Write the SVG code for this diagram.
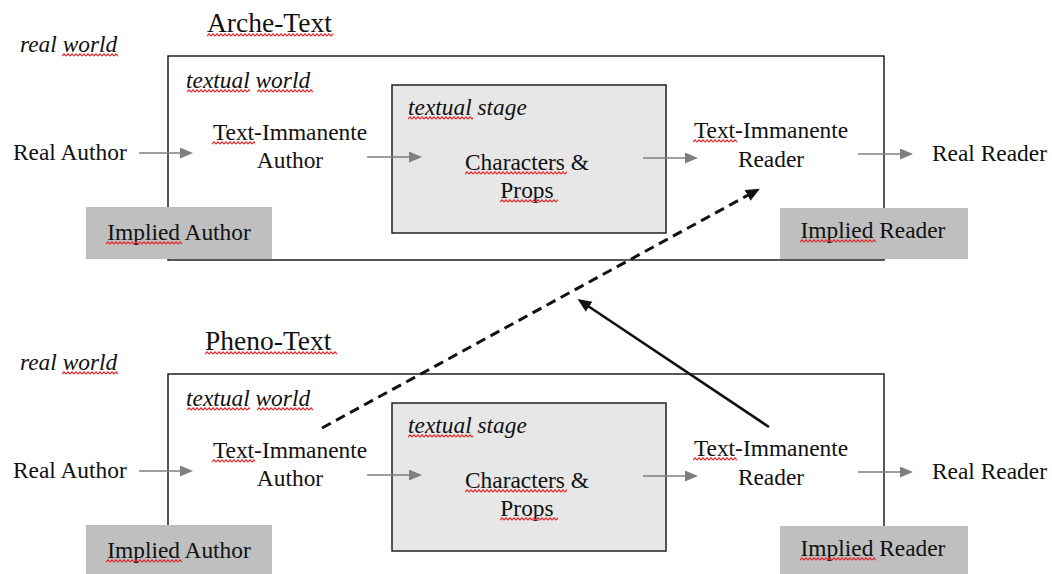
<svg xmlns="http://www.w3.org/2000/svg" width="1052" height="574" viewBox="0 0 1052 574">
<style>
  text { font-family: "Liberation Serif", "Times New Roman", serif; fill: #111; }
  .t { font-size: 23.4px; }
  .it { font-size: 23.4px; font-style: italic; }
  .title { font-size: 27.5px; }
  .mid { text-anchor: middle; }
  .outer { fill: #fff; stroke: #111; stroke-width: 1.4; }
  .stage { fill: #e7e7e7; stroke: #222; stroke-width: 1.5; }
  .implied { fill: #bfbfbf; stroke: none; }
  .gray { stroke: #7f7f7f; stroke-width: 1.6; fill: none; marker-end: url(#ga); }
  .dash { stroke: #111; stroke-width: 3; fill: none; stroke-dasharray: 10 6; marker-end: url(#ba); }
  .solid { stroke: #111; stroke-width: 2.6; fill: none; marker-end: url(#ba); }
  .sq { fill: url(#sq); }
</style>
<defs>
  <marker id="ga" markerUnits="userSpaceOnUse" markerWidth="14" markerHeight="12" refX="3" refY="5.5" orient="auto">
    <path d="M0,0 L13,5.5 L0,11 z" fill="#7f7f7f"/>
  </marker>
  <marker id="ba" markerUnits="userSpaceOnUse" markerWidth="16" markerHeight="14" refX="5" refY="6" orient="auto">
    <path d="M0,0 L14,6 L0,12 z" fill="#111"/>
  </marker>
  <pattern id="sq" patternUnits="userSpaceOnUse" width="4" height="4">
    <path d="M0,3.2 L2,0.8 L4,3.2" stroke="#e8262a" stroke-width="1.1" fill="none"/>
  </pattern>
</defs>

<g id="arche">
  <g id="arche-title">
    <text class="title" x="207" y="32">Arche-Text</text>
    <rect class="sq" transform="translate(207,33)" width="126" height="4"/>
  </g>
  <g id="arche-realworld">
    <text class="it" x="20" y="52">real world</text>
    <rect class="sq" transform="translate(62,53)" width="56" height="4"/>
  </g>
  <g id="arche-textualworld">
    <rect class="outer" x="168" y="56" width="716" height="204"/>
    <text class="it" x="186" y="88">textual world</text>
    <rect class="sq" transform="translate(187,89)" width="63" height="4"/>
    <rect class="sq" transform="translate(257,89)" width="56" height="4"/>
  </g>
  <g id="arche-stage">
    <rect class="stage" x="392" y="85" width="274" height="148"/>
    <text class="it" x="408" y="115">textual stage</text>
    <rect class="sq" transform="translate(408,116)" width="65" height="4"/>
  </g>
  <g id="arche-characters">
    <text class="t mid" x="527" y="170">Characters &amp;</text>
    <text class="t mid" x="527" y="198">Props</text>
    <rect class="sq" transform="translate(465,171)" width="102" height="4"/>
    <rect class="sq" transform="translate(500,199)" width="58" height="4"/>
  </g>
  <g id="arche-realauthor">
    <text class="t" x="13" y="160">Real Author</text>
  </g>
  <g id="arche-tiauthor">
    <text class="t mid" x="290" y="140">Text-Immanente</text>
    <text class="t mid" x="290" y="168">Author</text>
    <rect class="sq" transform="translate(212,141)" width="43" height="4"/>
  </g>
  <g id="arche-tireader">
    <text class="t mid" x="771" y="138">Text-Immanente</text>
    <text class="t mid" x="771" y="167">Reader</text>
    <rect class="sq" transform="translate(693,139)" width="44" height="4"/>
  </g>
  <g id="arche-realreader">
    <text class="t" x="932" y="161">Real Reader</text>
  </g>
  <g id="arche-impliedauthor">
    <rect class="implied" x="86" y="207" width="186" height="52"/>
    <text class="t mid" x="179" y="240">Implied Author</text>
    <rect class="sq" transform="translate(106,241)" width="76" height="4"/>
  </g>
  <g id="arche-impliedreader">
    <rect class="implied" x="780" y="208" width="188" height="51"/>
    <text class="t mid" x="873" y="238">Implied Reader</text>
    <rect class="sq" transform="translate(800,239)" width="76" height="4"/>
  </g>
</g>

<g id="pheno" transform="translate(0,318)">
  <g id="pheno-title">
    <text class="title" x="205" y="32">Pheno-Text</text>
    <rect class="sq" transform="translate(205,33)" width="132" height="4"/>
  </g>
  <g id="pheno-realworld">
    <text class="it" x="20" y="52">real world</text>
    <rect class="sq" transform="translate(62,53)" width="56" height="4"/>
  </g>
  <g id="pheno-textualworld">
    <rect class="outer" x="168" y="56" width="716" height="204"/>
    <text class="it" x="186" y="88">textual world</text>
    <rect class="sq" transform="translate(187,89)" width="63" height="4"/>
    <rect class="sq" transform="translate(257,89)" width="56" height="4"/>
  </g>
  <g id="pheno-stage">
    <rect class="stage" x="392" y="85" width="274" height="148"/>
    <text class="it" x="408" y="115">textual stage</text>
    <rect class="sq" transform="translate(408,116)" width="65" height="4"/>
  </g>
  <g id="pheno-characters">
    <text class="t mid" x="527" y="170">Characters &amp;</text>
    <text class="t mid" x="527" y="198">Props</text>
    <rect class="sq" transform="translate(465,171)" width="102" height="4"/>
    <rect class="sq" transform="translate(500,199)" width="58" height="4"/>
  </g>
  <g id="pheno-realauthor">
    <text class="t" x="13" y="160">Real Author</text>
  </g>
  <g id="pheno-tiauthor">
    <text class="t mid" x="290" y="140">Text-Immanente</text>
    <text class="t mid" x="290" y="168">Author</text>
    <rect class="sq" transform="translate(212,141)" width="43" height="4"/>
  </g>
  <g id="pheno-tireader">
    <text class="t mid" x="771" y="138">Text-Immanente</text>
    <text class="t mid" x="771" y="167">Reader</text>
    <rect class="sq" transform="translate(693,139)" width="44" height="4"/>
  </g>
  <g id="pheno-realreader">
    <text class="t" x="932" y="161">Real Reader</text>
  </g>
  <g id="pheno-impliedauthor">
    <rect class="implied" x="86" y="207" width="186" height="52"/>
    <text class="t mid" x="179" y="240">Implied Author</text>
    <rect class="sq" transform="translate(106,241)" width="76" height="4"/>
  </g>
  <g id="pheno-impliedreader">
    <rect class="implied" x="780" y="208" width="188" height="51"/>
    <text class="t mid" x="873" y="238">Implied Reader</text>
    <rect class="sq" transform="translate(800,239)" width="76" height="4"/>
  </g>
</g>

<g id="connectors">
  <g id="arche-connectors">
    <line class="gray" x1="139" y1="153" x2="183" y2="153"/>
    <line class="gray" x1="367" y1="157" x2="412" y2="157"/>
    <line class="gray" x1="643" y1="158" x2="688" y2="158"/>
    <line class="gray" x1="858" y1="154" x2="903" y2="154"/>
  </g>
  <g id="pheno-connectors" transform="translate(0,318)">
    <line class="gray" x1="139" y1="153" x2="183" y2="153"/>
    <line class="gray" x1="367" y1="157" x2="412" y2="157"/>
    <line class="gray" x1="643" y1="158" x2="688" y2="158"/>
    <line class="gray" x1="858" y1="154" x2="903" y2="154"/>
  </g>
  <line id="dashed-arrow" class="dash" x1="322" y1="428" x2="752" y2="193"/>
  <line id="solid-arrow" class="solid" x1="769" y1="427" x2="585" y2="304"/>
</g>
</svg>
